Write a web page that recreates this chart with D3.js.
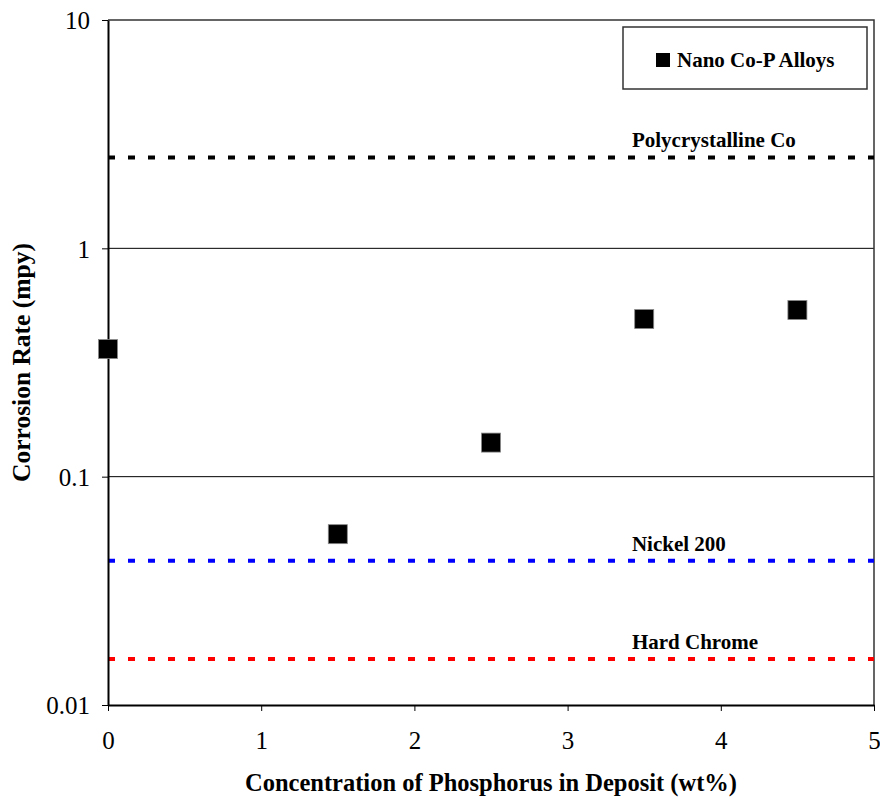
<!DOCTYPE html>
<html>
<head>
<meta charset="utf-8">
<script src="https://cdn.jsdelivr.net/npm/d3@7"></script>
<style>
  body { margin: 0; background: #fff; }
  svg text { font-family: "Liberation Serif", "Times New Roman", serif; fill: #000; }
</style>
</head>
<body>
<div id="chart"></div>
<script>
// Measured data (nano Co-P alloys)
let phosphorus = [0, 1.5, 2.5, 3.5, 4.5],
    corrosion  = [0.362, 0.056, 0.141, 0.49, 0.537];

// Reference materials drawn as dotted lines
let refNames  = ['Polycrystalline Co', 'Nickel 200', 'Hard Chrome'],
    refValues = [2.5, 0.0428, 0.0159],
    refColors = ['#000000', '#0000ff', '#ff0000'];

let xTicks = [0, 1, 2, 3, 4, 5],
    yTicks = [0.01, 0.1, 1, 10];

let width  = 880,
    height = 799,
    margin = { top: 20, right: 6, bottom: 94, left: 108 };

let svg = d3.select('#chart').append('svg')
    .attr('width', width)
    .attr('height', height);

let x = d3.scaleLinear().domain([0, 5]).range([margin.left, width - margin.right]),
    y = d3.scaleLog().domain([0.01, 10]).range([height - margin.bottom, margin.top]);

// Horizontal gridlines at decades
svg.append('g')
    .selectAll('line')
    .data(yTicks.slice(1, 3))
    .join('line')
    .attr('x1', x(0)).attr('x2', x(5))
    .attr('y1', d => y(d)).attr('y2', d => y(d))
    .attr('stroke', '#000').attr('stroke-width', 1);

// Plot frame (top and right)
svg.append('path')
    .attr('d', `M${x(0)},${y(10)}H${x(5)}V${y(0.01)}`)
    .attr('fill', 'none')
    .attr('stroke', '#333').attr('stroke-width', 1.5);

// Reference lines
let refs = refNames.map((name, i) => ({ name: name, value: refValues[i], color: refColors[i] }));

svg.append('g')
    .selectAll('line')
    .data(refs)
    .join('line')
    .attr('x1', x(0)).attr('x2', x(5))
    .attr('y1', d => y(d.value)).attr('y2', d => y(d.value))
    .attr('stroke', d => d.color)
    .attr('stroke-width', 4)
    .attr('stroke-dasharray', '7 13');

svg.append('g')
    .selectAll('text')
    .data(refs)
    .join('text')
    .attr('x', x(3.42))
    .attr('y', d => y(d.value) - 10)
    .attr('font-size', 21)
    .attr('font-weight', 'bold')
    .text(d => d.name);

// Axes
let yAxis = svg.append('g')
    .attr('transform', `translate(${x(0)},0)`)
    .call(d3.axisLeft(y).tickValues(yTicks).tickFormat(d3.format('~g')).tickSize(6).tickSizeOuter(0));

let xAxis = svg.append('g')
    .attr('transform', `translate(0,${y(0.01)})`)
    .call(d3.axisBottom(x).tickValues(xTicks).tickFormat(d3.format('d')).tickSize(6).tickSizeOuter(0));

[yAxis, xAxis].forEach(a => {
  a.select('.domain').attr('stroke', '#000').attr('stroke-width', 2);
  a.selectAll('.tick line').attr('stroke', '#000').attr('stroke-width', 1);
  a.selectAll('.tick text')
      .attr('font-size', 25)
      .attr('font-family', '"Liberation Serif", serif');
});
yAxis.selectAll('.tick text').attr('x', -18).attr('dy', '0.35em');
xAxis.selectAll('.tick text').attr('y', 26);

// Axis titles
svg.append('text')
    .attr('x', (x(0) + x(5)) / 2)
    .attr('y', 791)
    .attr('text-anchor', 'middle')
    .attr('font-size', 24.5)
    .attr('font-weight', 'bold')
    .text('Concentration of Phosphorus in Deposit (wt%)');

svg.append('text')
    .attr('transform', `translate(30,${(y(10) + y(0.01)) / 2}) rotate(-90)`)
    .attr('text-anchor', 'middle')
    .attr('font-size', 25.5)
    .attr('font-weight', 'bold')
    .text('Corrosion Rate (mpy)');

// Data markers
let size = 19;
svg.append('g')
    .selectAll('rect')
    .data(phosphorus.map((p, i) => ({ p: p, v: corrosion[i] })))
    .join('rect')
    .attr('x', d => x(d.p) - size / 2)
    .attr('y', d => y(d.v) - size / 2)
    .attr('width', size).attr('height', size)
    .attr('fill', '#000')
    .attr('stroke', '#888').attr('stroke-width', 0.8);

// Legend
let legend = svg.append('g').attr('transform', 'translate(623,27)');
legend.append('rect')
    .attr('width', 244).attr('height', 62)
    .attr('fill', '#fff')
    .attr('stroke', '#333').attr('stroke-width', 1.5);
legend.append('rect')
    .attr('x', 33).attr('y', 26)
    .attr('width', 14).attr('height', 14)
    .attr('fill', '#000');
legend.append('text')
    .attr('x', 54).attr('y', 40)
    .attr('font-size', 21)
    .attr('font-weight', 'bold')
    .text('Nano Co-P Alloys');
</script>
</body>
</html>
